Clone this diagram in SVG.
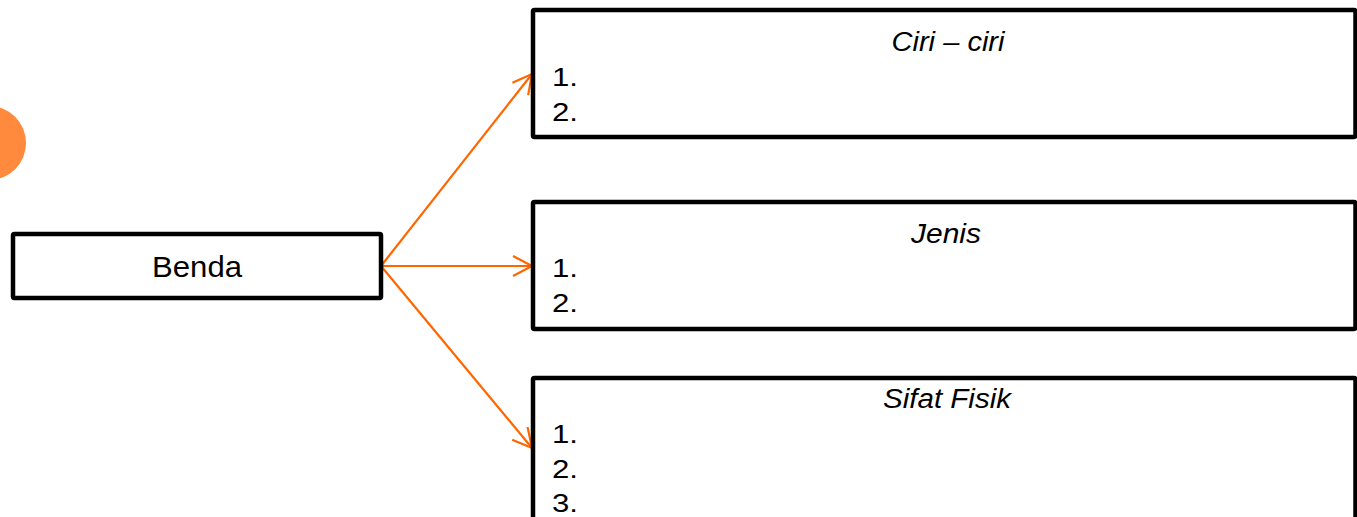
<svg xmlns="http://www.w3.org/2000/svg" width="1357" height="517" viewBox="0 0 1357 517">
  <defs>
    <style>
      .box { fill: #ffffff; stroke: #000000; stroke-width: 4.5; stroke-linejoin: round; }
      .txt { font-family: "Liberation Sans", Arial, sans-serif; fill: #000000; }
      .head { font-size: 27px; font-style: italic; text-anchor: middle; }
      .num { font-size: 26px; }
      .conn { stroke: #FF6600; stroke-width: 2.2; fill: none; }
    </style>
    <marker id="arrow" markerUnits="userSpaceOnUse" markerWidth="24" markerHeight="24" refX="20" refY="11" orient="auto" viewBox="0 0 24 24">
      <path d="M1,1 L20,11 L1,21" fill="none" stroke="#FF6600" stroke-width="2.2"/>
    </marker>
  </defs>
  <rect width="1357" height="517" fill="#ffffff"/>
  <circle cx="-11" cy="143" r="37" fill="#FF8A3D"/>

  <g id="connectors">
    <line class="conn" x1="381" y1="266" x2="532" y2="74" marker-end="url(#arrow)"/>
    <line class="conn" x1="381" y1="266" x2="532" y2="266" marker-end="url(#arrow)"/>
    <line class="conn" x1="381" y1="266" x2="532" y2="448" marker-end="url(#arrow)"/>
  </g>

  <g id="node-benda">
    <rect class="box" x="13" y="234" width="368" height="64" rx="1.5"/>
    <text class="txt" x="197" y="277" font-size="30" text-anchor="middle" textLength="90" lengthAdjust="spacingAndGlyphs">Benda</text>
  </g>

  <g id="node-ciri">
    <rect class="box" x="533" y="10" width="822.5" height="127" rx="1.5"/>
    <text class="txt head" x="948" y="51" textLength="113" lengthAdjust="spacingAndGlyphs">Ciri – ciri</text>
    <text class="txt num" x="552" y="86" textLength="26" lengthAdjust="spacingAndGlyphs">1.</text>
    <text class="txt num" x="552" y="121" textLength="26" lengthAdjust="spacingAndGlyphs">2.</text>
  </g>

  <g id="node-jenis">
    <rect class="box" x="533" y="202" width="822.5" height="127" rx="1.5"/>
    <text class="txt head" x="946" y="243" textLength="70" lengthAdjust="spacingAndGlyphs">Jenis</text>
    <text class="txt num" x="552" y="277" textLength="26" lengthAdjust="spacingAndGlyphs">1.</text>
    <text class="txt num" x="552" y="312" textLength="26" lengthAdjust="spacingAndGlyphs">2.</text>
  </g>

  <g id="node-sifat">
    <rect class="box" x="533" y="378" width="822.5" height="170" rx="1.5"/>
    <text class="txt head" x="947" y="408" textLength="128" lengthAdjust="spacingAndGlyphs">Sifat Fisik</text>
    <text class="txt num" x="552" y="443" textLength="26" lengthAdjust="spacingAndGlyphs">1.</text>
    <text class="txt num" x="552" y="478" textLength="26" lengthAdjust="spacingAndGlyphs">2.</text>
    <text class="txt num" x="552" y="512" textLength="26" lengthAdjust="spacingAndGlyphs">3.</text>
  </g>
</svg>
